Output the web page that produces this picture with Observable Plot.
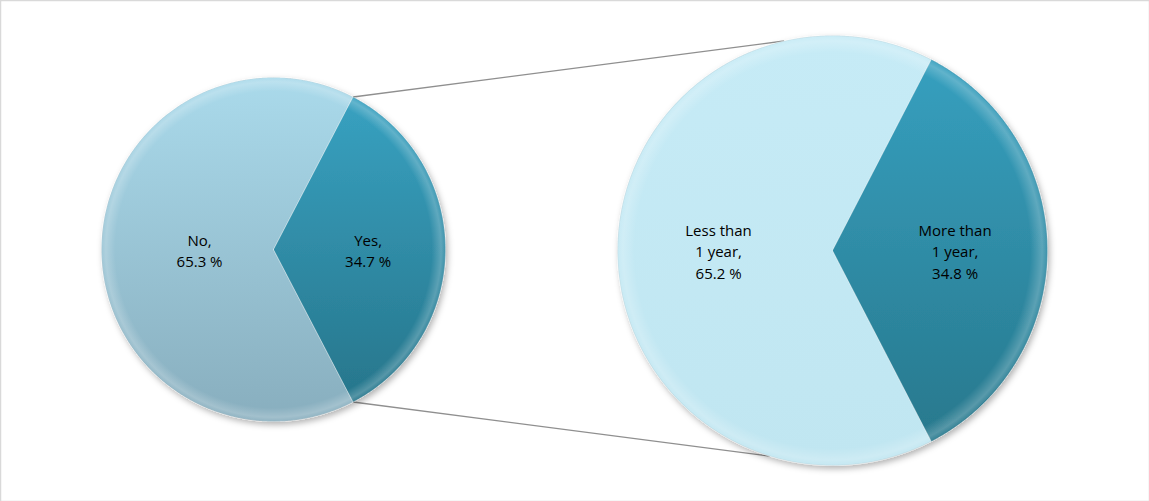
<!DOCTYPE html>
<html><head><meta charset="utf-8">
<script src="https://cdn.jsdelivr.net/npm/d3@7"></script>
<script src="https://cdn.jsdelivr.net/npm/@observablehq/plot@0.6"></script>
<style>body{margin:0;background:#fff;}</style>
</head><body><div id="chart"></div>
<script>
// ---- data ----
const mainCategories = ["No", "Yes"];
const mainValues = [65.3, 34.7];
const subCategories = ["Less than\n1 year", "More than\n1 year"];
const subValues = [65.2, 34.8];

// ---- layout ----
const W = 1149, H = 501;
const pies = [
  {id: "main", cx: 273, cy: 249, r: 172, cats: mainCategories, vals: mainValues,
   grads: ["gNo", "gYes"], labelFrac: [0.43, 0.55]},
  {id: "sub", cx: 832, cy: 250, r: 215, cats: subCategories, vals: subValues,
   grads: ["gLess", "gMore"], labelFrac: [0.53, 0.57]}
];
const gradColors = {
  gNo: ["#aadaeb", "#88aebe"],
  gYes: ["#39a4c4", "#267388"],
  gLess: ["#c6ebf6", "#c0e6f1"],
  gMore: ["#37a2c2", "#27768a"]
};
const connectorTargetAngles = [-13, 197]; // degrees on the secondary pie

function pt(p, a, rr) { return [p.cx + rr * Math.sin(a), p.cy - rr * Math.cos(a)]; }

const sliceArcs = [];
for (const p of pies) {
  const total = d3.sum(p.vals);
  const start = Math.PI / 2 + Math.PI * p.vals[1] / total;
  const arcs = d3.pie().sort(null).startAngle(start).endAngle(start + 2 * Math.PI)(p.vals);
  arcs.forEach((a, i) => sliceArcs.push({...a, pie: p, i}));
}

const polyPts = [];
const labels = [];
for (const s of sliceArcs) {
  const p = s.pie, key = p.id + s.i, fill = `url(#${p.grads[s.i]})`;
  polyPts.push({key, fill, x: p.cx, y: p.cy});
  const n = Math.ceil((s.endAngle - s.startAngle) / 0.005);
  for (let k = 0; k <= n; k++) {
    const a = s.startAngle + (s.endAngle - s.startAngle) * k / n;
    const [x, y] = pt(p, a, p.r);
    polyPts.push({key, fill, x, y});
  }
  polyPts.push({key, fill, x: p.cx, y: p.cy});
  const mid = (s.startAngle + s.endAngle) / 2;
  const [lx, ly] = pt(p, mid, p.r * p.labelFrac[s.i]);
  labels.push({x: lx, y: ly, text: `${p.cats[s.i]},\n${s.value.toFixed(1)} %`});
}

// connectors from the "Yes" slice edges of main pie to the secondary pie
const yes = sliceArcs.find(s => s.pie.id === "main" && s.i === 1);
const sub = pies[1];
const [tx1, ty1] = pt(pies[0], yes.startAngle, pies[0].r);
const [bx1, by1] = pt(pies[0], yes.endAngle, pies[0].r);
const [tx2, ty2] = pt(sub, connectorTargetAngles[0] * Math.PI / 180, sub.r);
const [bx2, by2] = pt(sub, connectorTargetAngles[1] * Math.PI / 180, sub.r);
const connectors = [
  {x1: tx1, y1: ty1, x2: tx2, y2: ty2},
  {x1: bx1, y1: by1, x2: bx2, y2: by2}
];

const svg = Plot.plot({
  width: W, height: H,
  margin: 0,
  x: {type: "identity", axis: null},
  y: {type: "identity", axis: null},
  r: {type: "identity"},
  color: {type: "identity"},
  style: {background: "#fff", fontFamily: "'Open Sans', sans-serif"},
  marks: [
    Plot.frame({stroke: "#d9d9d9", strokeWidth: 1.5}),
    Plot.link(connectors, {x1: "x1", y1: "y1", x2: "x2", y2: "y2", stroke: "#8f8f8f", strokeWidth: 1.3}),
    Plot.line(polyPts, {x: "x", y: "y", z: "key", fill: "fill", stroke: "#ffffff", strokeOpacity: 0.35, strokeWidth: 1, curve: "linear"}),
    Plot.dot(pies, {x: "cx", y: "cy", r: "r", fill: "url(#bevel)", stroke: null}),
    Plot.text(labels, {x: "x", y: "y", text: "text", fontSize: 15, lineHeight: 1.45, fill: "#000", textAnchor: "middle", lineAnchor: "middle"})
  ]
});

// gradient / filter definitions
const defs = d3.select(svg).insert("defs", ":first-child");
for (const p of pies) {
  p.grads.forEach(g => {
    const lg = defs.append("linearGradient").attr("id", g)
      .attr("gradientUnits", "userSpaceOnUse")
      .attr("x1", 0).attr("x2", 0).attr("y1", p.cy - p.r).attr("y2", p.cy + p.r);
    lg.append("stop").attr("offset", 0).attr("stop-color", gradColors[g][0]);
    lg.append("stop").attr("offset", 1).attr("stop-color", gradColors[g][1]);
  });
}
const rg = defs.append("radialGradient").attr("id", "bevel");
[[0, "#fff", 0], [0.92, "#fff", 0], [0.975, "#fff", 0.22], [0.995, "#fff", 0.1], [1, "#000", 0.08]].forEach(([o, c, op]) =>
  rg.append("stop").attr("offset", o).attr("stop-color", c).attr("stop-opacity", op));
const f = defs.append("filter").attr("id", "shadow").attr("x", "-10%").attr("y", "-10%").attr("width", "130%").attr("height", "130%");
f.append("feDropShadow").attr("dx", 2).attr("dy", 3).attr("stdDeviation", 3).attr("flood-color", "#000").attr("flood-opacity", 0.3);
d3.select(svg).select('g[aria-label="line"]').attr("filter", "url(#shadow)");

document.getElementById("chart").appendChild(svg);
</script>
</body></html>
